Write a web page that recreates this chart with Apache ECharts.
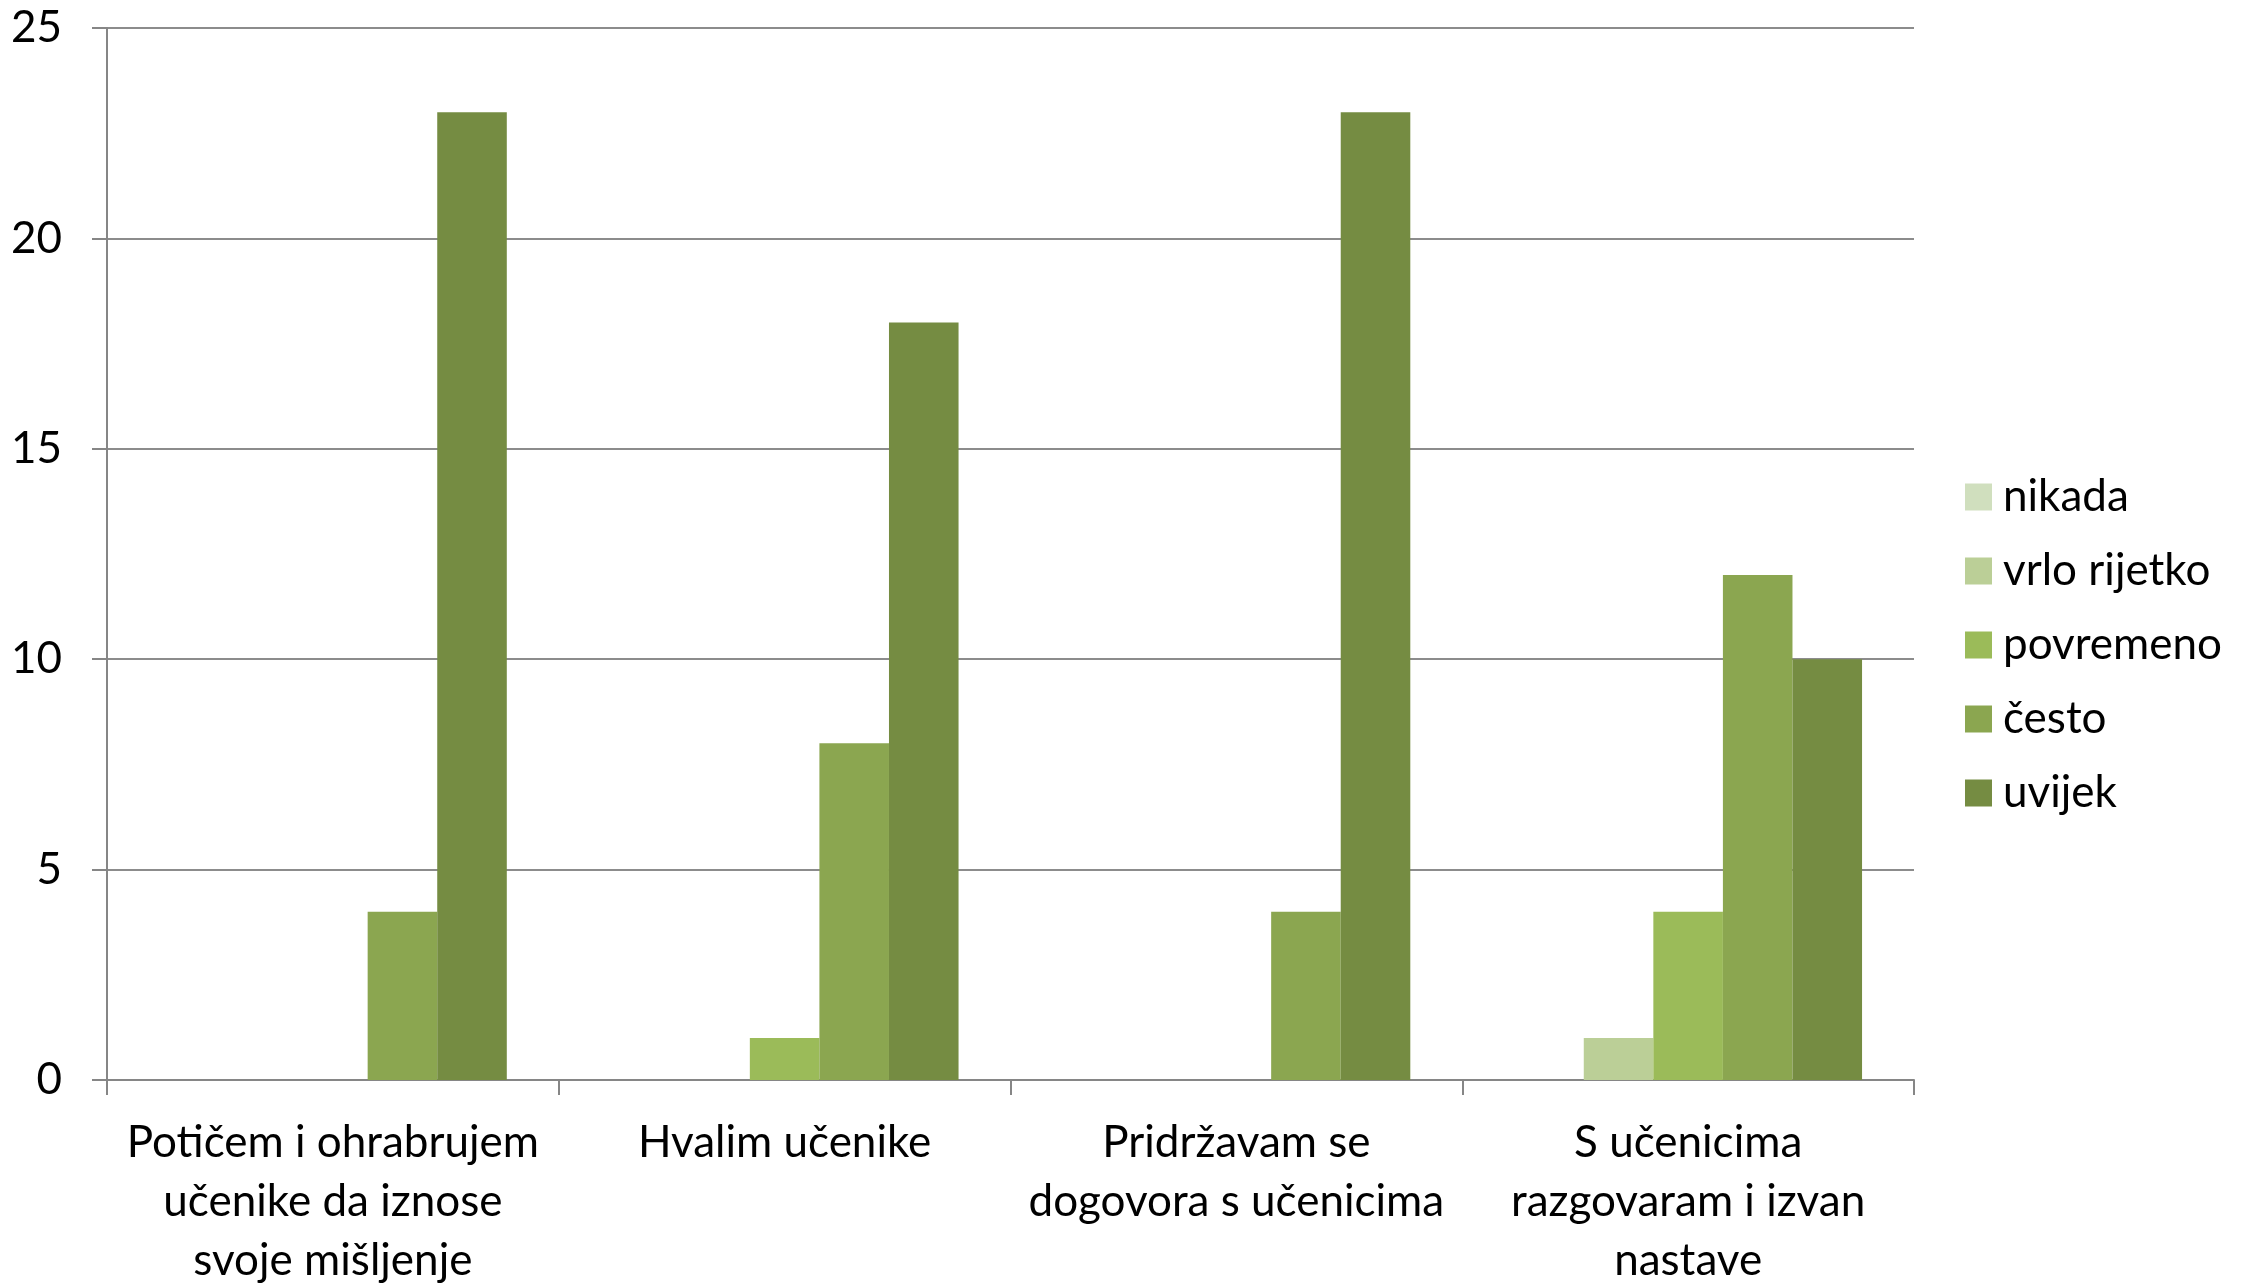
<!DOCTYPE html>
<html>
<head>
<meta charset="utf-8">
<script src="https://cdn.jsdelivr.net/npm/echarts@6/dist/echarts.min.js"></script>
<style>html,body{margin:0;padding:0;background:#fff}#c{width:2257px;height:1284px}</style>
</head>
<body>
<div id="c"></div>
<script>
const categories = [
  'Potičem i ohrabrujem\nučenike da iznose\nsvoje mišljenje',
  'Hvalim učenike',
  'Pridržavam se\ndogovora s učenicima',
  'S učenicima\nrazgovaram i izvan\nnastave'
];
const seriesNames = ['nikada', 'vrlo rijetko', 'povremeno', 'često', 'uvijek'];
const nikada = [0, 0, 0, 0];
const vrloRijetko = [0, 0, 0, 1];
const povremeno = [0, 1, 0, 4];
const cesto = [4, 8, 4, 12];
const uvijek = [23, 18, 23, 10];
const colors = ['#D0DFBE', '#BBCF97', '#9BBB59', '#8BA650', '#758C42'];

const values = [nikada, vrloRijetko, povremeno, cesto, uvijek];
const FONT = 'Lato';

const chart = echarts.init(document.getElementById('c'));
chart.setOption({
  animation: false,
  backgroundColor: '#ffffff',
  textStyle: { fontFamily: FONT },
  grid: { left: 107, top: 28, right: 343, bottom: 204, containLabel: false, outerBoundsMode: 'none' },
  legend: {
    orient: 'vertical',
    left: 1960,
    top: 470,
    itemWidth: 27,
    itemHeight: 27,
    itemGap: 30,
    icon: 'rect',
    data: seriesNames,
    textStyle: { fontFamily: FONT, fontSize: 44, color: '#000', lineHeight: 42, padding: [0, 0, 0, 6] }
  },
  xAxis: {
    type: 'category',
    data: categories,
    axisLine: { lineStyle: { color: '#868686', width: 2 } },
    axisTick: { show: true, length: 15, lineStyle: { color: '#868686', width: 2 } },
    axisLabel: { interval: 0, margin: 33, fontFamily: FONT, fontSize: 44, color: '#000', lineHeight: 59, align: 'center' },
    splitLine: { show: false }
  },
  yAxis: {
    type: 'value',
    min: 0,
    max: 25,
    interval: 5,
    axisLine: { show: true, lineStyle: { color: '#868686', width: 2 } },
    axisTick: { show: true, length: 15, lineStyle: { color: '#868686', width: 2 } },
    axisLabel: { margin: 45, fontFamily: FONT, fontSize: 44, color: '#000' },
    splitLine: { show: true, lineStyle: { color: '#8c8c8c', width: 2 } }
  },
  series: seriesNames.map((name, i) => ({
    name: name,
    type: 'bar',
    data: values[i],
    barGap: '0%',
    barCategoryGap: '23%',
    itemStyle: { color: colors[i] }
  }))
});
</script>
</body>
</html>
